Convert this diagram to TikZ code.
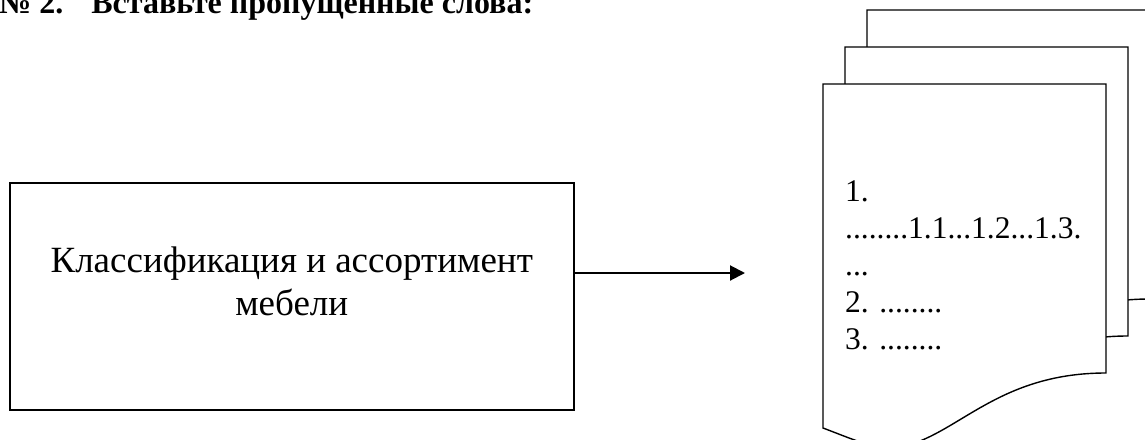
\documentclass[tikz,border=0pt]{standalone}
\usepackage{fontspec}
\setmainfont{Liberation Serif}
\usetikzlibrary{arrows.meta}
\begin{document}
\begin{tikzpicture}[x=1pt,y=-1pt,
  page/.style={draw=black,line width=1.4pt,fill=white,line join=miter},
  boxstyle/.style={draw=black,line width=1.5pt},
  conn/.style={line width=2pt,-{Triangle[length=15pt,width=15pt]}}]
\clip (0,0) rectangle (1145,439);
\fill[white] (0,0) rectangle (1145,439);
% title
\node[anchor=base west,inner sep=0pt,font=\bfseries\fontsize{32}{36}\selectfont] (title) at (-1,13) {№ 2.\hspace{28pt}Вставьте пропущенные слова:};
% pages (back to front)
\foreach \dx/\dy [count=\i] in {44/-74, 22/-37, 0/0}{
  \begin{scope}[shift={(\dx,\dy)}]
    \draw[page] (823,428) -- (823,84) -- (1106,84) -- (1106,373)
      .. controls (1000,373) and (960,432) .. (905,446)
      .. controls (880,452) and (860,442) .. (823,428) -- cycle;
  \end{scope}
}
\node[anchor=base west,inner sep=0pt,align=left,font=\fontsize{31.5}{37}\selectfont] (list) at (845,349)
  {1.\\........1.1...1.2...1.3.\\...\\2. ........\\3. ........};
% box
\node[boxstyle,minimum width=564pt,minimum height=227pt,anchor=north west,inner sep=0pt] (box) at (9,182) {};
\node[inner sep=0pt,align=center,font=\fontsize{37}{43}\selectfont] (boxtext) at ([yshift=15pt]box.center)
  {Классификация и ассортимент\\мебели};
\coordinate (arrowend) at (745,273);
\draw[conn] (box.east |- arrowend) -- (arrowend);
\end{tikzpicture}
\end{document}
